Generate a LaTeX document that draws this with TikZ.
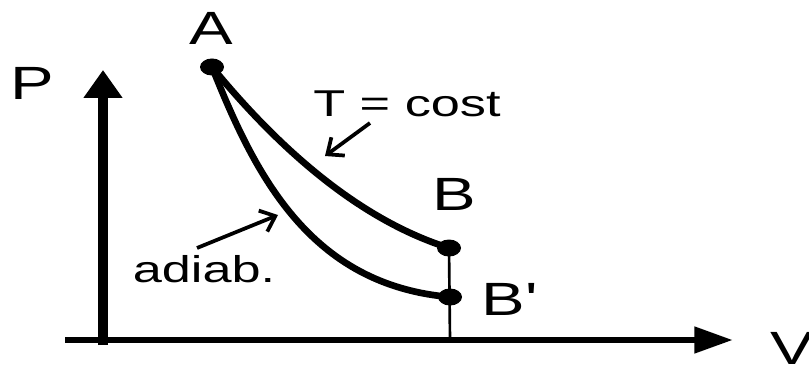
\documentclass[tikz,border=0pt]{standalone}
\usepackage{fontspec}
\setmainfont{Liberation Sans}
\usetikzlibrary{arrows.meta,shapes.geometric}
\tikzset{
  lbl/.style={inner sep=0pt, xscale=1.4, anchor=base},
  big/.style={font=\fontsize{35}{40}\selectfont},
  small/.style={font=\fontsize{28}{32}\selectfont},
  dot/.style={ellipse, fill=black, inner sep=0pt, minimum width=18pt, minimum height=12.75pt},
  curve/.style={line width=5pt, line cap=round},
  pointer/.style={line width=2.8pt, -{Straight Barb[length=10pt,width=17pt,line width=2.8pt]}}
}
\begin{document}
\begin{tikzpicture}[x=0.75pt,y=-0.75pt]
\useasboundingbox (0,0) rectangle (809,367);
% axes
\coordinate (O) at (103,340);
\coordinate (ybot) at (103,345);
\coordinate (ytop) at (103,70);
\coordinate (xleft) at (65,340);
\coordinate (xright) at (733,340);
\draw[line width=7.5pt, -{Triangle[length=21pt,width=28pt]}] (ybot) -- (ytop);
\draw[line width=5pt, -{Triangle[length=29pt,width=19pt]}] (xleft) -- (xright);
% states
\node[dot] (A) at (212,67) {};
\node[dot] (B) at (449,248) {};
\node[dot] (Bp) at (450,297) {};
\coordinate (Bfoot) at (450,340);
\draw[line width=2pt] (B.center) -- (Bfoot);
% curves
\draw[curve] (A.center) .. controls (280,150) and (360,220) .. (B.center);
\draw[curve] (A.center) .. controls (255,175) and (310,285) .. (Bp.center);
% labels
\node[lbl,big] (lA) at (211,45) {A};
\node[lbl,big] (lP) at (32,100) {P};
\node[lbl,big] (lB) at (454,210) {B};
\node[lbl,big] (lBp) at (510,315) {B\textquotesingle};
\node[lbl,big] (lV) at (792,364) {V};
\node[lbl,small] (lT) at (407,117) {T = cost};
\node[lbl,small] (lad) at (204,282) {adiab.};
% pointer arrows
\coordinate (t1) at (370,123);
\coordinate (t2) at (325,156);
\coordinate (a1) at (197,248);
\coordinate (a2) at (278,215);
\draw[pointer] (t1) -- (t2);
\draw[pointer] (a1) -- (a2);
\end{tikzpicture}
\end{document}
